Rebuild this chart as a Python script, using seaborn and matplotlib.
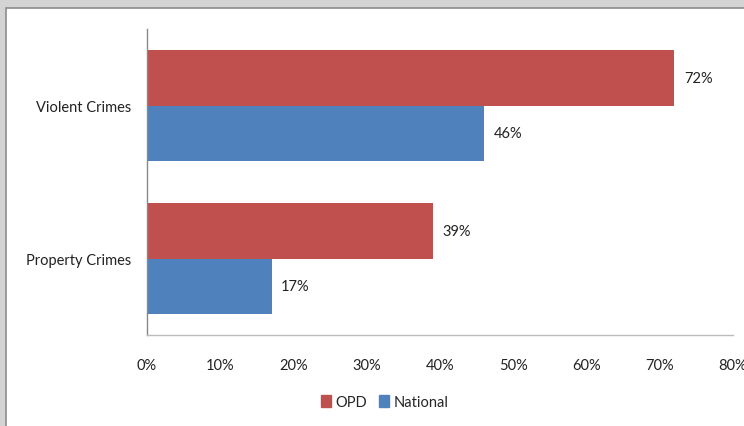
import pandas as pd
import seaborn as sns
import matplotlib.pyplot as plt
from matplotlib.patches import Rectangle

categories = ['Violent Crimes', 'Property Crimes']
series = ['OPD', 'National']
opd = [72, 39]
national = [46, 17]
x_ticks = [0, 10, 20, 30, 40, 50, 60, 70, 80]
colors = ['#C0504D', '#4F81BD']

df = pd.DataFrame({
    'category': categories * 2,
    'series': ['OPD'] * len(categories) + ['National'] * len(categories),
    'value': opd + national,
})

sns.set_theme(style='white')
plt.rcParams['font.family'] = ['Lato', 'DejaVu Sans']

W, H = 744, 427
fig = plt.figure(figsize=(W / 100, H / 100), dpi=100, facecolor='#D4D4D4')
# white chart area with gray border
fig.patches.append(Rectangle((6 / W, -0.1), 1.1, 1.1 - 9 / H,
                             transform=fig.transFigure, facecolor='white',
                             edgecolor='#8C8C8C', linewidth=1.2, zorder=-10))

ax = fig.add_axes([147 / W, 1 - 336 / H, (733 - 147) / W, 306 / H])
ax.set_zorder(5)
ax.set_facecolor('none')
sns.barplot(data=df, y='category', x='value', hue='series', hue_order=series,
            order=categories, palette=colors, orient='h', width=0.725,
            saturation=1, linewidth=0, ax=ax, legend=False)

for cont in ax.containers:
    ax.bar_label(cont, labels=[f'{v:.0f}%' for v in cont.datavalues],
                 padding=7, fontsize=10.5, color='#222222')

ax.set_xlim(0, 80)
ax.set_ylim(1.5, -0.5)
ax.set_xticks(x_ticks)
ax.set_xticklabels([f'{t}%' for t in x_ticks])
ax.tick_params(axis='x', length=0, pad=16.5, labelsize=10.5, colors='#222222')
ax.tick_params(axis='y', length=0, pad=11.5, labelsize=10.5, colors='#222222')
ax.set_xlabel('')
ax.set_ylabel('')
for s in ['top', 'right']:
    ax.spines[s].set_visible(False)
ax.spines['left'].set_color('#888888')
ax.spines['bottom'].set_color('#BBBBBB')
ax.spines['left'].set_linewidth(1)
ax.spines['bottom'].set_linewidth(1)

handles = [Rectangle((0, 0), 1, 1, color=c) for c in colors]
fig.legend(handles, series, loc='center', bbox_to_anchor=(385 / W, 1 - 403 / H),
           ncol=2, frameon=False, handlelength=0.7, handleheight=0.9,
           handletextpad=0.3, columnspacing=0.8, fontsize=10.5)

fig.savefig('out.png', dpi=100, facecolor=fig.get_facecolor())
